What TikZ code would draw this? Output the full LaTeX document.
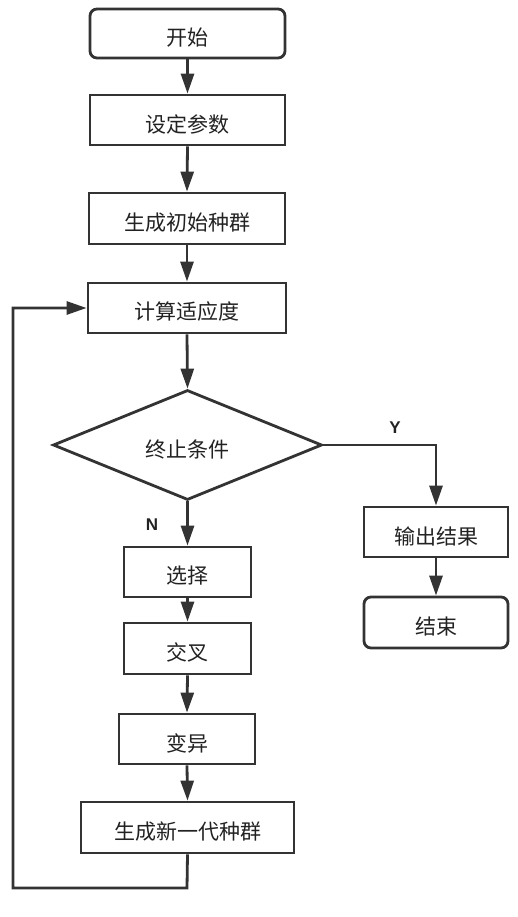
\documentclass[tikz,border=0pt]{standalone}
\usepackage{fontspec}
\newfontfamily\cjk{Noto Sans CJK SC}
\newfontfamily\lab{Liberation Sans}
\usetikzlibrary{shapes.geometric,arrows.meta}
\definecolor{ln}{HTML}{333333}
\definecolor{tx}{HTML}{222222}
\newcommand{\lowtxt}[1]{\raisebox{-4pt}[\height][\depth]{#1}}
\tikzset{
  x=1pt,y=-1pt,
  every node/.style={font=\cjk\fontsize{21}{25}\selectfont, text=tx},
  box/.style={draw=ln, line width=2.8pt, rectangle, inner sep=0pt, fill=white},
  rbox/.style={box, rounded corners=7pt},
  dec/.style={draw=ln, line width=2.8pt, diamond, inner sep=0pt, minimum width=269pt, minimum height=110pt, fill=white},
  conn/.style={draw=ln, line width=2.8pt, -{Triangle[length=20pt,width=13pt]}},
  yn/.style={font=\lab\bfseries\fontsize{17}{20}\selectfont, text=tx}
}
\begin{document}
\begin{tikzpicture}
\useasboundingbox (0,0) rectangle (517,917);
\node[rbox, minimum width=195pt, minimum height=49pt] (start) at (187.5,33.5) {\lowtxt{开始}};
\node[box, minimum width=195pt, minimum height=50pt] (param) at (187.5,120) {\lowtxt{设定参数}};
\node[box, minimum width=196pt, minimum height=51pt] (init) at (187,218.5) {\lowtxt{生成初始种群}};
\node[box, minimum width=198pt, minimum height=50pt] (fit) at (187,308) {\lowtxt{计算适应度}};
\node[dec] (dia) at (187.5,445) {\lowtxt{终止条件}};
\node[box, minimum width=144pt, minimum height=50pt] (out) at (436,532) {\lowtxt{输出结果}};
\node[rbox, minimum width=144pt, minimum height=51pt] (end) at (436,622.5) {\lowtxt{结束}};
\node[box, minimum width=127pt, minimum height=50pt] (sel) at (187.5,572) {\lowtxt{选择}};
\node[box, minimum width=127pt, minimum height=51pt] (cross) at (187.5,648.5) {\lowtxt{交叉}};
\node[box, minimum width=136pt, minimum height=50pt] (mut) at (187,739) {\lowtxt{变异}};
\node[box, minimum width=213pt, minimum height=51pt] (newgen) at (187.5,827.5) {\lowtxt{生成新一代种群}};
\coordinate (yc) at (436,445);
\coordinate (l1) at (187,888);
\coordinate (l2) at (13,888);
\coordinate (l3) at (13,308);
\draw[conn] (start.south) -- (param.north);
\draw[conn] (param.south) -- (init.north);
\draw[conn] (init.south) -- (fit.north);
\draw[conn] (fit.south) -- (dia.north);
\draw[conn] (dia.south) -- (sel.north);
\draw[conn] (sel.south) -- (cross.north);
\draw[conn] (cross.south) -- (mut.north);
\draw[conn] (mut.south) -- (newgen.north);
\draw[conn] (dia.east) -- (yc) -- (out.north);
\draw[conn] (out.south) -- (end.north);
\draw[conn] (newgen.south) -- (l1) -- (l2) -- (l3) -- (fit.west);
\node[yn] (ylab) at (395,428) {Y};
\node[yn] (nlab) at (152,525) {N};
\end{tikzpicture}
\end{document}
